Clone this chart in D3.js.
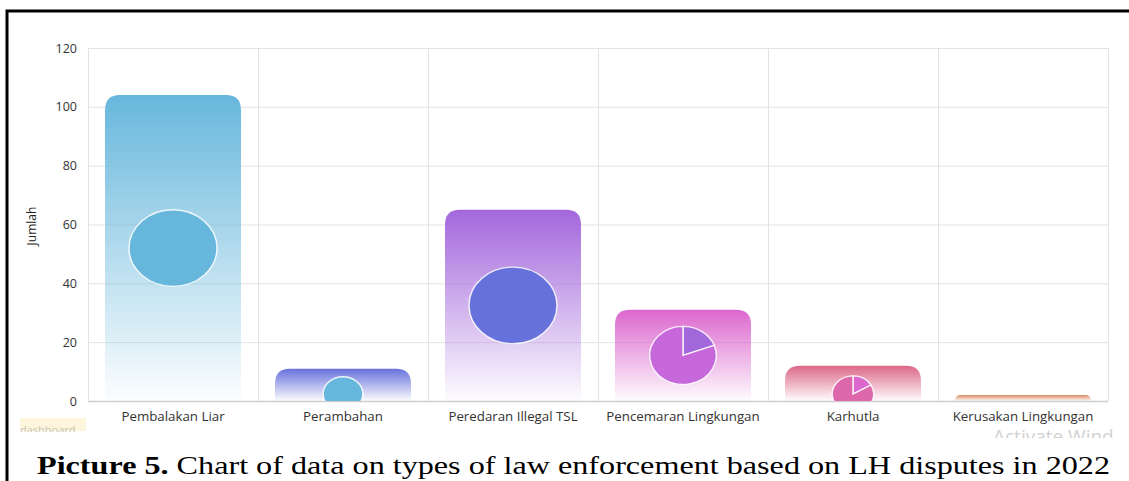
<!DOCTYPE html>
<meta charset="UTF-8">
<html>
<head>
<script src="https://d3js.org/d3.v7.min.js"></script>
<style>
  body { margin: 0; background: #fff; }
  .Axis text { font-family: "Open Sans", "Noto Sans", sans-serif; fill: #333; }
</style>
</head>
<body>
<svg class="Chart"></svg>
<script>
// data
var categories = ["Pembalakan Liar", "Perambahan", "Peredaran Illegal TSL", "Pencemaran Lingkungan", "Karhutla", "Kerusakan Lingkungan"];
var totals = [104, 11, 65, 31, 12, 2];
// inner pie slices of each column (first slice starts at 12 o'clock)
var pieSlices = [[104], [11], [65], [6, 25], [2, 10], [2]];
var yTicks = [0, 20, 40, 60, 80, 100, 120];
var barColors = ["#67b7dc", "#6771dc", "#a367dc", "#dc67ce", "#dc6788", "#dc8c67"];
var sliceColors = [["#67b7dc"], ["#67b7dc"], ["#6771dc"], ["#a367dc", "#c767dc"], ["#dc67ce", "#dc67ab"], ["#dc8c67"]];

var W = 1129, H = 481;
var Plot = {Left: 88, Right: 1108, Top: 48, Bottom: 401};

var svg = d3.select(".Chart").attr("width", W).attr("height", H);

var XScale = d3.scaleBand().domain(categories).range([Plot.Left, Plot.Right]).padding(0);
var YScale = d3.scaleLinear().domain([0, 120]).range([Plot.Bottom, Plot.Top]);
var RScale = d3.scaleSqrt().domain([0, 54]).range([0, 44]).clamp(true);

var defs = svg.append("defs");
categories.forEach(function(c, i) {
  var g = defs.append("linearGradient").attr("id", "grad" + i)
    .attr("x1", 0).attr("y1", 0).attr("x2", 0).attr("y2", 1);
  g.append("stop").attr("offset", 0).attr("stop-color", barColors[i]).attr("stop-opacity", 1);
  g.append("stop").attr("offset", 1).attr("stop-color", barColors[i]).attr("stop-opacity", 0.02);
});
defs.append("clipPath").attr("id", "plotClip").append("rect")
  .attr("x", Plot.Left).attr("y", Plot.Top)
  .attr("width", Plot.Right - Plot.Left).attr("height", Plot.Bottom - Plot.Top);

// grid
var grid = svg.append("g");
grid.selectAll("line.h").data(yTicks).enter().append("line")
  .attr("x1", Plot.Left).attr("x2", Plot.Right)
  .attr("y1", function(d) { return YScale(d) + 0.5; })
  .attr("y2", function(d) { return YScale(d) + 0.5; })
  .attr("stroke", function(d) { return d === 0 ? "#cfcfcf" : "#e3e3e3"; })
  .attr("stroke-width", function(d) { return d === 0 ? 1.5 : 1; });
var vx = categories.map(function(c) { return XScale(c); }).concat([Plot.Right]);
grid.selectAll("line.v").data(vx).enter().append("line")
  .attr("x1", function(d) { return d + 0.5; }).attr("x2", function(d) { return d + 0.5; })
  .attr("y1", Plot.Top).attr("y2", Plot.Bottom)
  .attr("stroke", "#e3e3e3");

// y axis labels
var yAxis = svg.append("g").attr("class", "Axis").attr("transform", "translate(" + Plot.Left + ",0)")
  .call(d3.axisLeft(YScale).tickValues(yTicks).tickSize(0).tickPadding(11));
yAxis.select(".domain").remove();
yAxis.selectAll("text").style("font-size", "12.5px").attr("fill", "#333");

svg.append("text")
  .attr("transform", "translate(36,226) rotate(-90)")
  .attr("text-anchor", "middle")
  .style("font", "12px 'Open Sans', 'Noto Sans', sans-serif").attr("fill", "#222")
  .text("Jumlah");

// x axis labels
var xAxis = svg.append("g").attr("class", "Axis").attr("transform", "translate(0," + Plot.Bottom + ")")
  .call(d3.axisBottom(XScale).tickSize(0).tickPadding(11));
xAxis.select(".domain").remove();
xAxis.selectAll("text").style("font-size", "13.3px").attr("fill", "#333");

// bars with rounded tops
function barPath(x, y, w, h, r) {
  r = Math.min(r, h, w / 2);
  return "M" + x + "," + (y + h) + "V" + (y + r) +
    "Q" + x + "," + y + " " + (x + r) + "," + y +
    "H" + (x + w - r) + "Q" + (x + w) + "," + y + " " + (x + w) + "," + (y + r) +
    "V" + (y + h) + "Z";
}
var bw = XScale.bandwidth() * 0.8;
svg.append("g").selectAll("path").data(totals).enter().append("path")
  .attr("d", function(d, i) {
    var x = XScale(categories[i]) + (XScale.bandwidth() - bw) / 2;
    return barPath(x, YScale(d), bw, YScale(0) - YScale(d), 15);
  })
  .attr("fill", function(d, i) { return "url(#grad" + i + ")"; });

// pies inside the bars
var pie = d3.pie().sort(null).value(function(d) { return d; });
var pies = svg.append("g").attr("clip-path", "url(#plotClip)");
var squash = 0.87;
totals.forEach(function(v, i) {
  if (pieSlices[i].length === 1 && v < 5) return;
  var r = RScale(v);
  var barH = YScale(0) - YScale(v);
  var cy = (2 * r * squash > barH) ? YScale(0) - 7 : YScale(v / 2);
  var cx = XScale(categories[i]) + XScale.bandwidth() / 2;
  var arc = d3.arc().innerRadius(0).outerRadius(r);
  var g = pies.append("g").attr("transform", "translate(" + cx + "," + cy + ") scale(1," + squash + ")");
  g.selectAll("path").data(pie(pieSlices[i])).enter().append("path")
    .attr("d", arc)
    .attr("fill", function(d, j) { return sliceColors[i][j]; })
    .attr("stroke", "#fff").attr("stroke-opacity", 0.85).attr("stroke-width", 1.5);
});

// faint screenshot leftovers
svg.append("rect").attr("x", 20).attr("y", 418).attr("width", 66).attr("height", 13).attr("fill", "#fdf5dc");
svg.append("text").attr("x", 20).attr("y", 434)
  .style("font", "11px 'Open Sans', sans-serif").attr("fill", "#c8c2b4").text("dashboard");
svg.append("text").attr("x", 993).attr("y", 443)
  .style("font", "19px 'Open Sans', sans-serif").attr("fill", "#d2d2d2").text("Activate Wind");
svg.append("rect").attr("x", 9).attr("y", 432).attr("width", 80).attr("height", 10).attr("fill", "#fff");
svg.append("rect").attr("x", 9).attr("y", 438).attr("width", W).attr("height", 44).attr("fill", "#fff");

// outer frame of the figure
svg.append("path").attr("d", "M7,481 V11 H1129")
  .attr("fill", "none").attr("stroke", "#000").attr("stroke-width", 3);

// caption
var cap = svg.append("text").attr("x", 37).attr("y", 474)
  .attr("textLength", 1073).attr("lengthAdjust", "spacingAndGlyphs")
  .style("font", "26px 'Liberation Serif', 'DejaVu Serif', serif").attr("fill", "#000");
cap.append("tspan").style("font-weight", "bold").text("Picture 5.");
cap.append("tspan").text(" Chart of data on types of law enforcement based on LH disputes in 2022");
</script>
</body>
</html>
